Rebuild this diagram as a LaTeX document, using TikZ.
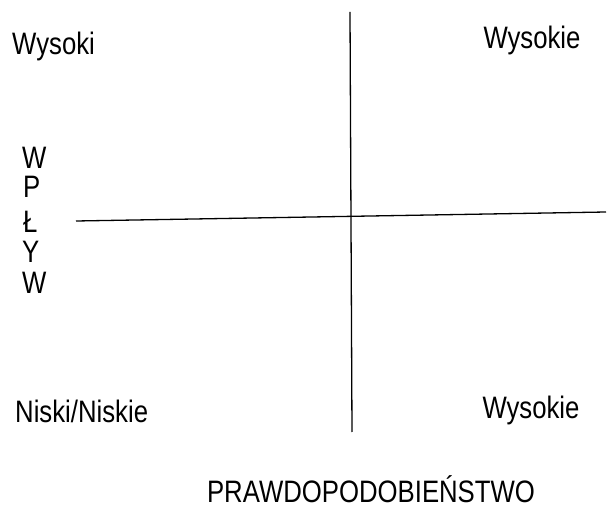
\documentclass[tikz,border=0pt]{standalone}
\usepackage{fontspec}
\setmainfont{Liberation Sans}[FakeStretch=0.83]
\begin{document}
\begin{tikzpicture}[x=1pt,y=-1pt,
  lbl/.style={inner sep=0pt,font=\fontsize{31}{33}\selectfont},
  axis/.style={line width=1.3pt,black}]
\useasboundingbox (0,0) rectangle (611,521);
\coordinate (vtop) at (350,12);
\coordinate (vbot) at (352,432);
\coordinate (hleft) at (76,221);
\coordinate (hright) at (606,212);
\draw[axis] (vtop) -- (vbot);
\draw[axis] (hleft) -- (hright);
\node[lbl,anchor=base west] (hi) at (12,55) {Wysoki};
\node[lbl,anchor=base] (tr) at (532,49) {Wysokie};
\node[lbl,anchor=base west] (l1) at (22,169) {W};
\node[lbl,anchor=base west] (l2) at (23,198) {P};
\node[lbl,anchor=base west] (l3) at (23,233) {Ł};
\node[lbl,anchor=base west] (l4) at (22,263) {Y};
\node[lbl,anchor=base west] (l5) at (22,294) {W};
\node[lbl,anchor=base west] (lo) at (15,423) {Niski/Niskie};
\node[lbl,anchor=base] (br) at (531,419) {Wysokie};
\node[lbl,anchor=base] (px) at (371,503) {PRAWDOPODOBIEŃSTWO};
\end{tikzpicture}
\end{document}
